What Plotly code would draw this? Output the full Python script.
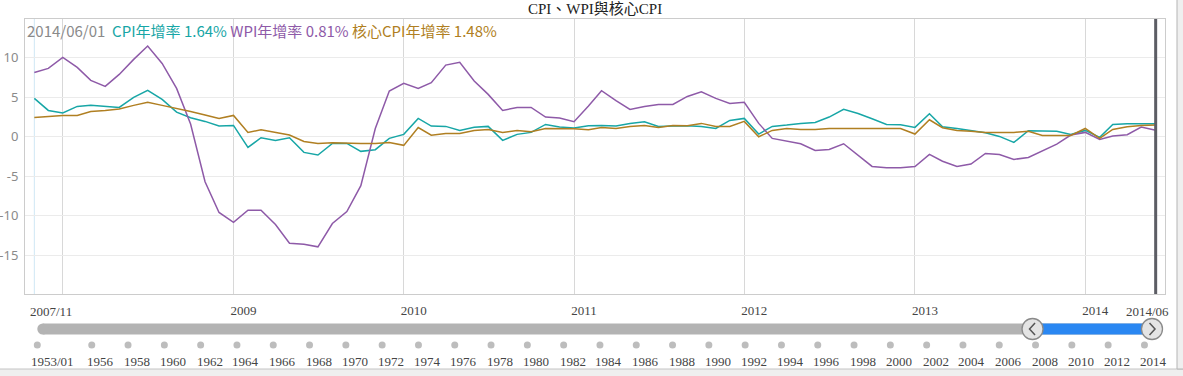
import pandas as pd
import plotly.graph_objects as go

# ---------------- data ----------------
months = pd.date_range("2007-11-01", "2014-06-01", freq="MS")

cpi = [4.85, 3.33,
       3.00, 3.84, 3.97, 3.80, 3.71, 4.98, 5.86, 4.73, 3.12, 2.41, 1.94, 1.35,
       1.43, -1.35, -0.13, -0.46, -0.13, -1.98, -2.31, -0.84, -0.84, -1.85, -1.64, -0.20,
       0.30, 2.32, 1.35, 1.31, 0.80, 1.20, 1.31, -0.46, 0.30, 0.55, 1.56, 1.22,
       1.10, 1.39, 1.43, 1.35, 1.69, 1.90, 1.31, 1.35, 1.39, 1.31, 1.05, 2.07,
       2.32, 0.34, 1.31, 1.48, 1.69, 1.81, 2.49, 3.46, 2.95, 2.28, 1.56, 1.52,
       1.18, 2.91, 1.27, 1.05, 0.80, 0.50, 0.04, -0.72, 0.76, 0.68, 0.68, 0.30,
       0.80, -0.08, 1.56, 1.65, 1.60, 1.64]

wpi = [8.14, 8.65,
       10.04, 8.78, 7.13, 6.37, 7.89, 9.79, 11.48, 9.28, 6.12, 1.60, -5.70, -9.58,
       -10.84, -9.30, -9.30, -11.10, -13.47, -13.60, -13.93, -10.98, -9.47, -6.19, 1.05, 5.78,
       6.75, 6.12, 6.84, 9.07, 9.41, 7.05, 5.36, 3.33, 3.71, 3.71, 2.49, 2.36,
       1.90, 3.88, 5.82, 4.56, 3.46, 3.84, 4.09, 4.09, 5.10, 5.70, 4.85, 4.22,
       4.35, 1.69, -0.21, -0.55, -0.89, -1.73, -1.60, -0.89, -2.32, -3.76, -3.92, -3.92,
       -3.76, -2.24, -3.10, -3.76, -3.46, -2.11, -2.24, -2.87, -2.62, -1.81, -0.93, 0.21,
       0.55, -0.34, 0.08, 0.25, 1.22, 0.81]

core_cpi = [2.45, 2.57,
            2.70, 2.70, 3.20, 3.33, 3.50, 3.97, 4.35, 3.97, 3.59, 3.20, 2.74, 2.32,
            2.70, 0.55, 0.88, 0.55, 0.21, -0.59, -0.84, -0.76, -0.84, -0.84, -0.84, -0.72,
            -1.09, 1.16, 0.19, 0.40, 0.40, 0.78, 0.93, 0.55, 0.80, 0.63, 1.05, 1.05,
            1.01, 0.89, 1.18, 1.05, 1.31, 1.43, 1.18, 1.43, 1.39, 1.69, 1.31, 1.31,
            1.94, 0.00, 0.80, 1.05, 0.93, 0.93, 1.05, 1.05, 1.05, 1.05, 1.05, 1.05,
            0.34, 2.15, 1.14, 0.80, 0.68, 0.55, 0.55, 0.55, 0.68, 0.17, 0.17, 0.17,
            1.05, -0.21, 0.93, 1.27, 1.43, 1.48]

year_ticks = ["2008-01-01", "2009-01-01", "2010-01-01", "2011-01-01",
              "2012-01-01", "2013-01-01", "2014-01-01"]
year_labels = ["", "2009", "2010", "2011", "2012", "2013", "2014"]

y_ticks = [-15, -10, -5, 0, 5, 10]
y_labels = ["-15", "-10", "-5", "0", "5", "10"]

nav_years = [1953, 1956, 1958, 1960, 1962, 1964, 1966, 1968, 1970, 1972, 1974,
             1976, 1978, 1980, 1982, 1984, 1986, 1988, 1990, 1992, 1994, 1996,
             1998, 2000, 2002, 2004, 2006, 2008, 2010, 2012, 2014]
nav_labels = ["1953/01"] + [str(y) for y in nav_years[1:]]

title_text = "CPI、WPI與核心CPI"
series_names = ["CPI年增率", "WPI年增率", "核心CPI年增率"]

# ---------------- styles ----------------
C_CPI = "#17a6a6"
C_WPI = "#8e5aa8"
C_CORE = "#b07f22"
SERIF = "Liberation Serif, Noto Sans CJK TC, serif"
SANS = "Noto Sans CJK TC, Noto Sans, sans-serif"

W, H = 1183, 376
SCR_L, SCR_R, SCR_T, SCR_B = 25, 1165, 19, 294   # main plot box in pixels
ML = SCR_L
MR = W - SCR_R
MT = SCR_T
MB = 0
plot_h = H - MT - MB
dom_split = (H - SCR_B) / plot_h


def py(px):  # pixel row -> paper y
    return (H - MB - px) / plot_h


def px_x(px):  # pixel column -> paper x
    return (px - SCR_L) / (SCR_R - SCR_L)


def nav_y(px):  # pixel row -> y2 value (0..1 over navigator band)
    return (H - px) / (H - SCR_B)


fig = go.Figure()
for vals, name, col in [(cpi, series_names[0], C_CPI),
                        (wpi, series_names[1], C_WPI),
                        (core_cpi, series_names[2], C_CORE)]:
    fig.add_trace(go.Scatter(x=months, y=vals, mode="lines", name=name,
                             line=dict(color=col, width=1.5), xaxis="x", yaxis="y"))

# navigator dots
fig.add_trace(go.Scatter(x=nav_years, y=[nav_y(345)] * len(nav_years), mode="markers",
                         marker=dict(size=7, color="#bdbdbd"), xaxis="x2", yaxis="y2",
                         hoverinfo="skip"))

first = months[0]
last = months[-1]
nav_start = first.year + (first.month - 1) / 12
nav_end = last.year + (last.month - 1) / 12

# handles
fig.add_trace(go.Scatter(x=[nav_start, nav_end], y=[nav_y(329)] * 2, mode="markers",
                         marker=dict(size=21, color="#e4e4e4",
                                     line=dict(color="#8a8a8a", width=1.3)),
                         xaxis="x2", yaxis="y2", hoverinfo="skip"))

shapes = []
bar_y = nav_y(329)
# gray slider bar
shapes.append(dict(type="rect", xref="x2", yref="y2", x0=nav_years[0] + 0.3, x1=nav_end,
                   ysizemode="pixel", yanchor=bar_y, y0=-5.5, y1=5.5,
                   fillcolor="#b3b3b3", line=dict(width=0), layer="below"))
shapes.append(dict(type="circle", xref="x2", yref="y2", xsizemode="pixel",
                   xanchor=nav_years[0], x0=0, x1=11,
                   ysizemode="pixel", yanchor=bar_y, y0=-5.5, y1=5.5,
                   fillcolor="#b3b3b3", line=dict(width=0), layer="below"))
# blue selected range
shapes.append(dict(type="rect", xref="x2", yref="y2", x0=nav_start, x1=nav_end,
                   ysizemode="pixel", yanchor=bar_y, y0=-5.5, y1=5.5,
                   fillcolor="#2a87f2", line=dict(width=0), layer="below"))
# chevrons
shapes.append(dict(type="path", xref="x2", yref="y2", xsizemode="pixel", xanchor=nav_start,
                   ysizemode="pixel", yanchor=bar_y, path="M 2.5,-6 L -3,0 L 2.5,6",
                   line=dict(color="#555555", width=1.5)))
shapes.append(dict(type="path", xref="x2", yref="y2", xsizemode="pixel", xanchor=nav_end,
                   ysizemode="pixel", yanchor=bar_y, path="M -2.5,-6 L 3,0 L -2.5,6",
                   line=dict(color="#555555", width=1.5)))

# first-point marker line and current crosshair
shapes.append(dict(type="line", xref="x", yref="y domain", x0=first, x1=first, y0=0, y1=1,
                   line=dict(color="#cfe7f5", width=1), layer="below"))
shapes.append(dict(type="line", xref="x", yref="y domain", x0=last, x1=last, y0=0, y1=1,
                   line=dict(color="#5c5d64", width=3)))

# outer frame (gray strip bottom and right)
shapes.append(dict(type="rect", xref="paper", yref="paper", x0=px_x(-10), x1=px_x(1200),
                   y0=py(400), y1=py(369), fillcolor="#efefef",
                   line=dict(color="#c4c4c4", width=1)))
shapes.append(dict(type="rect", xref="paper", yref="paper", x0=px_x(1177), x1=px_x(1200),
                   y0=py(369), y1=py(-5), fillcolor="#efefef",
                   line=dict(color="#b5b5b5", width=1)))

annotations = []
# title
annotations.append(dict(text=title_text, xref="paper", yref="paper", x=0.5, y=py(9),
                        xanchor="center", yanchor="middle", showarrow=False,
                        font=dict(family=SERIF, size=15, color="#222222")))
# header readout
hdr = (f"<span style='color:#8a8a8a'>{last.strftime('%Y/%m/%d')}</span>&nbsp;&nbsp;"
       f"<span style='color:{C_CPI}'>{series_names[0]} {cpi[-1]:.2f}%</span> "
       f"<span style='color:{C_WPI}'>{series_names[1]} {wpi[-1]:.2f}%</span> "
       f"<span style='color:{C_CORE}'>{series_names[2]} {core_cpi[-1]:.2f}%</span>")
annotations.append(dict(text=hdr, xref="paper", yref="paper", x=px_x(25), y=py(30),
                        xanchor="left", yanchor="middle", showarrow=False,
                        font=dict(family=SANS, size=15)))
# end labels of main x axis
annotations.append(dict(text=first.strftime("%Y/%m"), xref="x", yref="paper", x=first,
                        y=py(311), xshift=17, xanchor="center", yanchor="middle",
                        showarrow=False, font=dict(family=SERIF, size=13, color="#444444")))
annotations.append(dict(text=last.strftime("%Y/%m"), xref="x", yref="paper", x=last,
                        y=py(311), xshift=-8, xanchor="center", yanchor="middle",
                        showarrow=False, font=dict(family=SERIF, size=13, color="#444444")))
# navigator labels
for yv, lab in zip(nav_years, nav_labels):
    annotations.append(dict(text=lab, xref="x2", yref="y2", x=yv, y=nav_y(361.5),
                            xshift=15 if "/" in lab else 9, xanchor="center",
                            yanchor="middle", showarrow=False,
                            font=dict(family=SERIF, size=13, color="#444444")))

# navigator x range in years, matching pixel layout
px_per_year = 18.15
nav_x0 = 1953 + (SCR_L - 37.3) / px_per_year
nav_x1 = 1953 + (SCR_R - 37.3) / px_per_year

fig.update_layout(
    width=W, height=H,
    margin=dict(l=ML, r=MR, t=MT, b=MB, pad=0, autoexpand=False),
    paper_bgcolor="white", plot_bgcolor="white",
    showlegend=False,
    shapes=shapes, annotations=annotations,
    xaxis=dict(type="date", range=["2007-10-12", "2014-06-21"], domain=[0, 1],
               anchor="y", tickvals=year_ticks, ticktext=year_labels, automargin=False,
               showgrid=True, gridcolor="#d8d8d8", gridwidth=1,
               showline=True, linecolor="#cccccc", linewidth=1, mirror=True,
               ticks="", ticklabelshift=10, ticklabelstandoff=4,
               tickfont=dict(family=SERIF, size=13, color="#444444"), zeroline=False),
    yaxis=dict(domain=[dom_split, 1], range=[-19.9, 14.9], anchor="x", automargin=False,
               tickvals=y_ticks, ticktext=y_labels, showgrid=True, gridcolor="#ebebeb",
               showline=True, linecolor="#cccccc", linewidth=1, mirror=True,
               ticks="", ticklabelstandoff=3, zeroline=False,
               tickfont=dict(family="Noto Sans, sans-serif", size=13, color="#8a8a8a")),
    xaxis2=dict(domain=[0, 1], range=[nav_x0, nav_x1], anchor="y2", visible=False,
                automargin=False),
    yaxis2=dict(domain=[0, dom_split], range=[0, 1], anchor="x2", visible=False,
                automargin=False),
)

# remove the page's default 8px body margin so the figure sits at the window origin
fig.write_html("out.html", config={"displayModeBar": False},
               post_script="document.body.style.margin='0px';")
